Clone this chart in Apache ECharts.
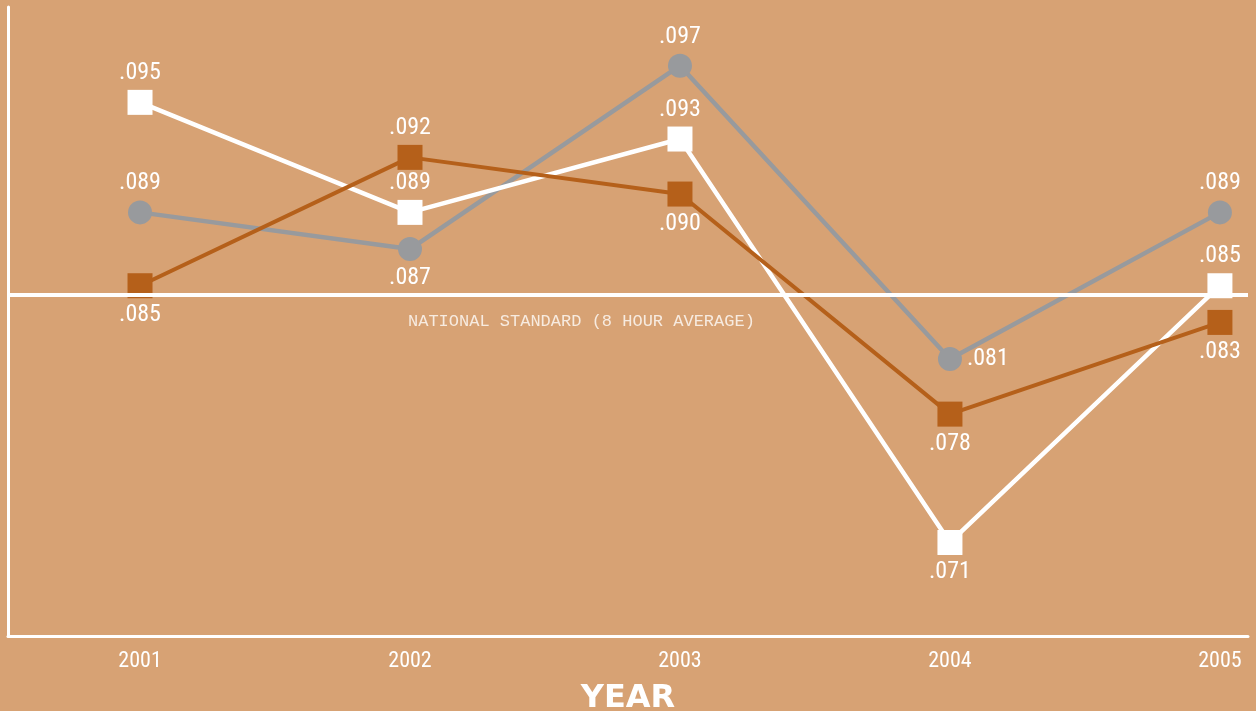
<!DOCTYPE html>
<html>
<head>
<meta charset="utf-8">
<title>Ozone 8-hour average by year</title>
<script src="https://cdn.jsdelivr.net/npm/echarts@6/dist/echarts.min.js"></script>
<style>
    html, body { margin: 0; padding: 0; background: #d7a274; }
    #chart { width: 1256px; height: 711px; }
</style>
</head>
<body>
<div id="chart"></div>
<script>
// data
const years = [2001, 2002, 2003, 2004, 2005]
const whiteSite = [0.095, 0.089, 0.093, 0.071, 0.085]
const graySite = [0.089, 0.087, 0.097, 0.081, 0.089]
const brownSite = [0.085, 0.092, 0.090, 0.078, 0.083]
const nationalStandard = 0.0845

// where each value label sits relative to its mark
const whitePos = ['top', 'top', 'top', 'bottom', 'top']
const grayPos = ['top', 'bottom', 'top', 'right', 'top']
const brownPos = ['bottom', 'top', 'bottom', 'bottom', 'bottom']

const labelFont = "'Roboto Condensed', 'DejaVu Sans Condensed', sans-serif"

function fmt(v) {
    return '.' + Math.round(v * 1000).toString().padStart(3, '0')
}

function points(values, positions) {
    return values.map((v, i) => ({
        value: [years[i], v],
        label: { position: positions[i] }
    }))
}

const chart = echarts.init(document.getElementById('chart'))

const valueLabel = {
    show: true,
    color: '#fff',
    fontSize: 24,
    fontFamily: labelFont,
    distance: 5,
    formatter: p => fmt(p.value[1])
}

const option = {
    backgroundColor: '#d7a274',
    animation: false,
    grid: { left: 8, right: 8, top: 7, bottom: 75, outerBoundsMode: 'none' },
    xAxis: {
        type: 'value',
        min: 2000.511,
        max: 2005.104,
        name: 'YEAR',
        nameLocation: 'middle',
        nameGap: 47,
        nameTextStyle: {
            color: '#fff',
            fontSize: 32,
            fontWeight: 900,
            fontFamily: "'DejaVu Sans', sans-serif"
        },
        axisLine: { show: true, lineStyle: { color: '#fff', width: 3 } },
        axisTick: { show: false },
        splitLine: { show: false },
        axisLabel: {
            customValues: years,
            color: '#fff',
            fontSize: 22,
            fontFamily: labelFont,
            margin: 14,
            formatter: v => String(v)
        }
    },
    yAxis: {
        type: 'value',
        min: 0.0659,
        max: 0.1002,
        axisLine: { show: true, lineStyle: { color: '#fff', width: 3 } },
        axisTick: { show: false },
        axisLabel: { show: false },
        splitLine: { show: false }
    },
    series: [
        {
            name: 'gray',
            type: 'line',
            data: points(graySite, grayPos),
            symbol: 'circle',
            symbolSize: 24,
            lineStyle: { color: '#989a9d', width: 4.5 },
            itemStyle: { color: '#989a9d' },
            label: valueLabel,
            markLine: {
                silent: true,
                symbol: 'none',
                precision: 5,
                lineStyle: { color: '#fff', width: 4, type: 'solid' },
                label: { show: false },
                data: [{ yAxis: nationalStandard }]
            }
        },
        {
            name: 'white',
            type: 'line',
            data: points(whiteSite, whitePos),
            symbol: 'rect',
            symbolSize: 25,
            lineStyle: { color: '#fff', width: 4.5 },
            itemStyle: { color: '#fff' },
            label: valueLabel
        },
        {
            name: 'brown',
            type: 'line',
            data: points(brownSite, brownPos),
            symbol: 'rect',
            symbolSize: 25,
            lineStyle: { color: '#b5601a', width: 4 },
            itemStyle: { color: '#b5601a' },
            label: valueLabel
        }
    ],
    graphic: [
        {
            type: 'text',
            left: 408,
            top: 313,
            style: {
                text: 'NATIONAL STANDARD (8 HOUR AVERAGE)',
                fill: '#f7ebe0',
                font: "17px 'Liberation Mono', 'DejaVu Sans Mono', monospace"
            }
        }
    ]
}

chart.setOption(option)
</script>
</body>
</html>
